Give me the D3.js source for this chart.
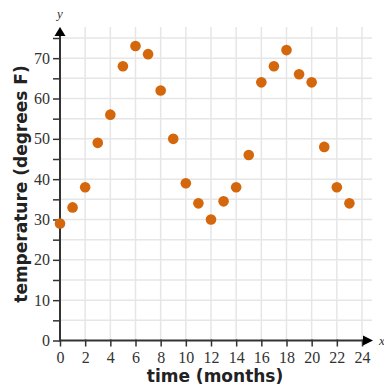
<!DOCTYPE html>
<html>
<head>
<meta charset="utf-8">
<script src="https://cdn.jsdelivr.net/npm/d3@7"></script>
<style>
html,body{margin:0;padding:0;background:#fff;}
svg{display:block;}
</style>
</head>
<body>
<svg id="chart" width="384" height="388"></svg>
<script>
const months = [0,1,2,3,4,5,6,7,8,9,10,11,12,13,14,15,16,17,18,19,20,21,22,23];
const temps = [29,33,38,49,56,68,73,71,62,50,39,34,30,34.5,38,46,64,68,72,66,64,48,38,34];
const xTicks = [0,2,4,6,8,10,12,14,16,18,20,22,24];
const yLabelTicks = [0,10,20,30,40,50,60,70];
const yTicks = [0,5,10,15,20,25,30,35,40,45,50,55,60,65,70,75];
const xTitle = "time (months)";
const yTitle = "temperature (degrees F)";

const svg = d3.select("#chart");
const x = d3.scaleLinear().domain([0,24]).range([60,362]);
const y = d3.scaleLinear().domain([0,75]).range([340.5,38]);

const grid = svg.append("g");
grid.selectAll("line.v").data(xTicks).join("line")
  .attr("x1", d=>x(d)).attr("x2", d=>x(d))
  .attr("y1", y(0)).attr("y2", 27)
  .attr("stroke", "#e6e6e6").attr("stroke-width", 1.5);
grid.selectAll("line.h").data(yTicks.filter(d=>d>0)).join("line")
  .attr("x1", x(0)).attr("x2", 372)
  .attr("y1", d=>y(d)).attr("y2", d=>y(d))
  .attr("stroke", "#e6e6e6").attr("stroke-width", 1.5);

// x axis
const xAxis = d3.axisBottom(x).tickValues(xTicks).tickSize(6).tickPadding(5).tickFormat(d3.format("d"));
const gx = svg.append("g").attr("transform", `translate(0,${y(0)})`).call(xAxis);
gx.select(".domain").remove();
gx.selectAll(".tick line").attr("stroke", "#333").attr("stroke-width", 1.5).attr("y1", -1);
gx.selectAll(".tick text").attr("font-family", "Liberation Serif, serif").attr("font-size", 16).attr("fill", "#333");

// y axis
const yAxis = d3.axisLeft(y).tickValues(yTicks).tickSize(7).tickPadding(3)
  .tickFormat(d => yLabelTicks.includes(d) ? d : "");
const gy = svg.append("g").attr("transform", `translate(${x(0)},0)`).call(yAxis);
gy.select(".domain").remove();
gy.selectAll(".tick line").attr("stroke", "#333").attr("stroke-width", 1.5);
gy.selectAll(".tick text").attr("font-family", "Liberation Serif, serif").attr("font-size", 16).attr("fill", "#333");

// axis lines with arrows
svg.append("line").attr("x1", x(0)-1).attr("x2", 364).attr("y1", y(0)).attr("y2", y(0))
  .attr("stroke", "#333").attr("stroke-width", 2);
svg.append("path").attr("d", `M373,${y(0)} L363,${y(0)-5} L363,${y(0)+5} Z`).attr("fill", "#000");
svg.append("line").attr("x1", x(0)).attr("x2", x(0)).attr("y1", y(0)).attr("y2", 34)
  .attr("stroke", "#333").attr("stroke-width", 2);
svg.append("path").attr("d", `M${x(0)},27 L${x(0)-5.5},36 L${x(0)+5.5},36 Z`).attr("fill", "#000");

svg.append("text").attr("x", 379).attr("y", y(0)+4).attr("font-family", "Liberation Serif, serif")
  .attr("font-style", "italic").attr("font-size", 13).attr("fill", "#333").text("x");
svg.append("text").attr("x", x(0)).attr("y", 18).attr("text-anchor", "middle").attr("font-family", "Liberation Serif, serif")
  .attr("font-style", "italic").attr("font-size", 13).attr("fill", "#333").text("y");

// titles
svg.append("text").attr("x", 215).attr("y", 382).attr("text-anchor", "middle")
  .attr("font-family", "DejaVu Sans").attr("font-weight", "bold").attr("font-size", 17).attr("fill", "#222").text(xTitle);
svg.append("text").attr("transform", "translate(27,184) rotate(-90)").attr("text-anchor", "middle")
  .attr("font-family", "DejaVu Sans").attr("font-weight", "bold").attr("font-size", 17).attr("fill", "#222").text(yTitle);

// points
svg.append("g").selectAll("circle").data(months).join("circle")
  .attr("cx", (d)=>x(d)).attr("cy", (d,i)=>y(temps[i])).attr("r", 5.3)
  .attr("fill", "#d4660c");
</script>
</body>
</html>
